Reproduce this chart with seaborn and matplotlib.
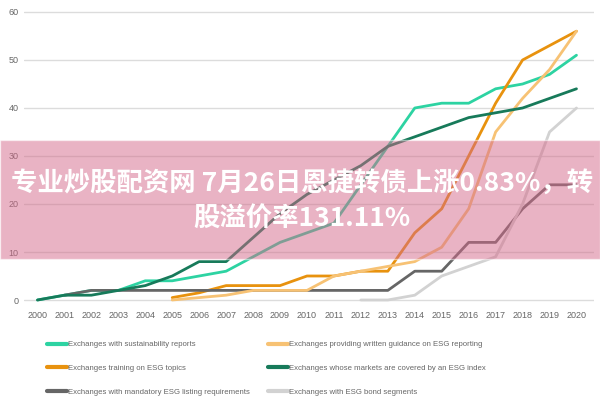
import numpy as np
import pandas as pd
import seaborn as sns
from matplotlib import pyplot as plt

years = list(range(2000, 2021))
nan = np.nan

sustainability = [0, 1, 2, 2, 4, 4, 5, 6, 9, 12, 14, 16, 24, 32, 40, 41, 41, 44, 45, 47, 51]
guidance = [nan] * 5 + [0, 0.5, 1, 2, 2, 2, 5, 6, 7, 8, 11, 19, 35, 42, 48, 56]
training = [nan] * 5 + [0.5, 1.5, 3, 3, 3, 5, 5, 6, 6, 14, 19, 30, 41, 50, 53, 56]
esg_index = [0, 1, 1, 2, 3, 5, 8, 8, 13, 18, 22, 25, 28, 32, 34, 36, 38, 39, 40, 42, 44]
mandatory = [nan] + [1, 2, 2, 2, 2, 2, 2, 2, 2, 2, 2, 2, 2, 6, 6, 12, 12, 19, 24, 24]
bonds = [nan] * 12 + [0, 0, 1, 5, 7, 9, 20, 35, 40]

labels = [
    "Exchanges with sustainability reports",
    "Exchanges training on ESG topics",
    "Exchanges with mandatory ESG listing requirements",
    "Exchanges providing written guidance on ESG reporting",
    "Exchanges whose markets are covered by an ESG index",
    "Exchanges with ESG bond segments",
]
series = [sustainability, training, mandatory, guidance, esg_index, bonds]
colors = ["#2dd3a2", "#e8920e", "#666666", "#f7c274", "#177a5a", "#d2d2d2"]

df = pd.DataFrame({"year": years})
for lab, vals in zip(labels, series):
    df[lab] = vals
long = df.melt(id_vars="year", var_name="series", value_name="value").dropna()

sns.set_style("white")
plt.rcParams["font.family"] = ["Liberation Sans Narrow", "Liberation Sans", "DejaVu Sans"]

fig = plt.figure(figsize=(6, 4), dpi=100)
ax = fig.add_axes([0.04, 0.244, 0.95, 0.738])

sns.lineplot(
    data=long, x="year", y="value", hue="series", hue_order=labels,
    palette=dict(zip(labels, colors)), linewidth=2, ax=ax, legend=False,
)

ax.set_xlim(1999.5, 2020.65)
ax.set_ylim(-0.5, 61)
ax.set_xticks(years)
ax.set_yticks(range(0, 61, 10))
ax.tick_params(axis="both", labelsize=6.5, colors="#666666", length=0, pad=6)
ax.tick_params(axis="y", pad=4)
ax.set_xlabel("")
ax.set_ylabel("")
ax.grid(axis="y", color="#dcdcdc", linewidth=1)
ax.set_axisbelow(True)
for s in ax.spines.values():
    s.set_visible(False)

handles = [plt.Line2D([], [], color=c, linewidth=3) for c in colors]
fig.legend(
    handles, labels, ncol=2, loc="upper left", bbox_to_anchor=(0.078, 0.148),
    frameon=False, fontsize=5.6, handlelength=2.6, handletextpad=0.1,
    labelspacing=2.1, columnspacing=2.3, borderaxespad=0, borderpad=0,
    labelcolor="#666666",
)

# pink banner with headline
fig.patches.append(plt.Rectangle((0, 1 - 259 / 400), 1, 119 / 400, transform=fig.transFigure,
                                 facecolor="#d4698a", alpha=0.5, zorder=5))
fig.text(0.503, 1 - 201 / 400, "专业炒股配资网 7月26日恩捷转债上涨0.83%，转\n股溢价率131.11%",
         ha="center", va="center", multialignment="center", color="white",
         fontsize=19, fontweight="bold", linespacing=1.45, zorder=6,
         family=["Noto Sans CJK SC", "DejaVu Sans"])

fig.savefig("out.png", dpi=100)
